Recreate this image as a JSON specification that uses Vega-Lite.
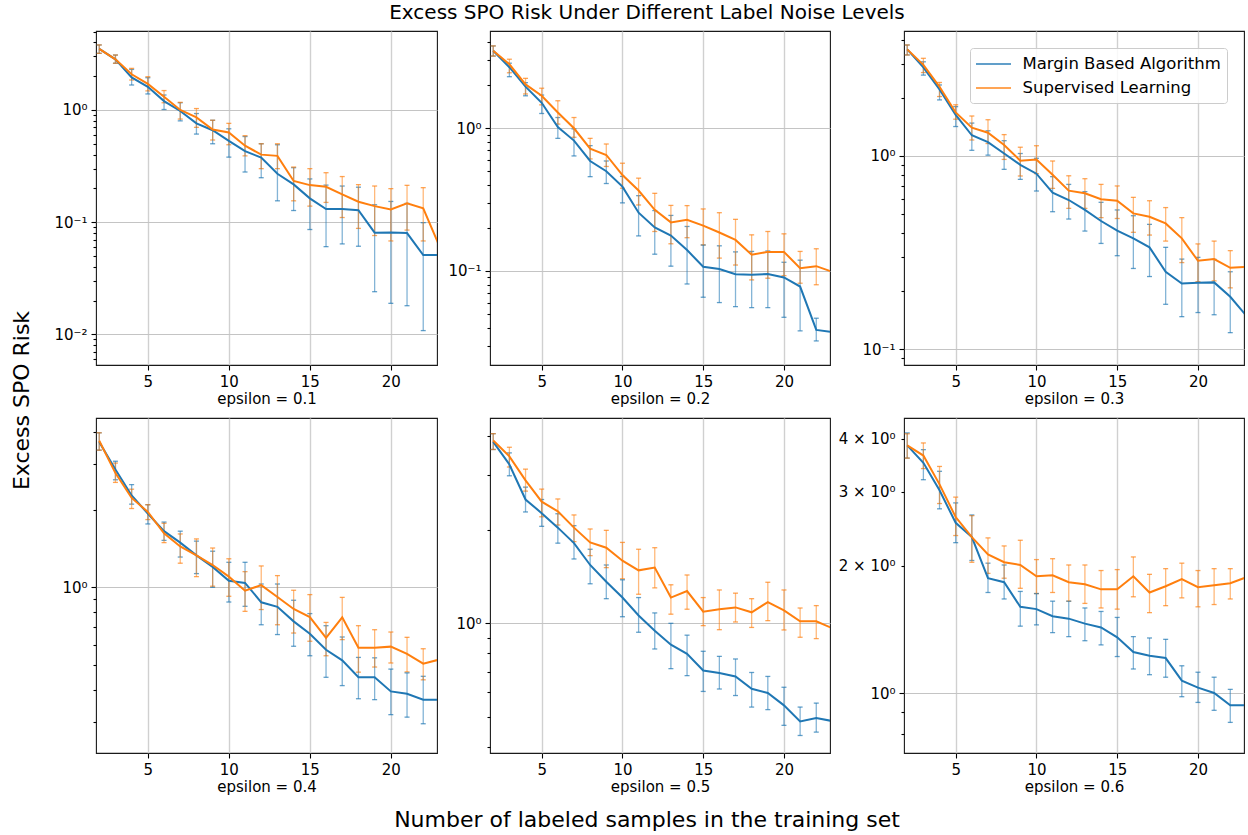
{
"$schema": "https://vega.github.io/schema/vega-lite/v6.json",
"padding": {"left": 9, "top": 2, "right": 5, "bottom": 5},
"background": "white",
"config": {
  "font": "DejaVu Sans",
  "view": {"stroke": "#1a1a1a", "strokeWidth": 1.1},
  "axis": {"labelFont": "DejaVu Sans", "labelFontSize": 15, "labelColor": "#000000", "tickColor": "#000000", "tickWidth": 1.1, "domain": false, "titleFont": "DejaVu Sans", "titleFontWeight": "normal", "titleColor": "#000000", "titleFontSize": 15, "labelOverlap": false, "labelFlush": false, "labelBound": false, "titlePadding": 2, "labelPadding": 4, "tickSize": 5},
  "axisX": {"gridColor": "#d0d0d0", "gridWidth": 1.4},
  "axisY": {"gridColor": "#c4c4c4", "gridWidth": 1},
  "legend": {"title": null, "symbolType": "M-2,0H2", "symbolSize": 306, "symbolOffset": 7.5, "symbolStrokeWidth": 2, "labelFontSize": 16.5, "labelFont": "DejaVu Sans", "labelColor": "#000000", "labelLimit": 400, "labelOffset": 19, "padding": 6, "rowPadding": 5, "fillColor": "rgba(255,255,255,0.85)", "strokeColor": "#cccccc", "cornerRadius": 3},
  "title": {"font": "DejaVu Sans", "fontWeight": "normal", "color": "#000000"}
},
"datasets": {"d": [
{"e":0.1,"s":"Margin Based Algorithm","x":2,"y":3.5,"lo":3.2,"hi":3.8},
{"e":0.1,"s":"Margin Based Algorithm","x":3,"y":2.83,"lo":2.61,"hi":3.09},
{"e":0.1,"s":"Margin Based Algorithm","x":4,"y":1.95,"lo":1.67,"hi":2.3},
{"e":0.1,"s":"Margin Based Algorithm","x":5,"y":1.61,"lo":1.39,"hi":1.94},
{"e":0.1,"s":"Margin Based Algorithm","x":6,"y":1.2,"lo":1.01,"hi":1.36},
{"e":0.1,"s":"Margin Based Algorithm","x":7,"y":0.98,"lo":0.8,"hi":1.16},
{"e":0.1,"s":"Margin Based Algorithm","x":8,"y":0.76,"lo":0.61,"hi":0.93},
{"e":0.1,"s":"Margin Based Algorithm","x":9,"y":0.66,"lo":0.5,"hi":0.81},
{"e":0.1,"s":"Margin Based Algorithm","x":10,"y":0.53,"lo":0.38,"hi":0.68},
{"e":0.1,"s":"Margin Based Algorithm","x":11,"y":0.43,"lo":0.28,"hi":0.58},
{"e":0.1,"s":"Margin Based Algorithm","x":12,"y":0.376,"lo":0.249,"hi":0.5},
{"e":0.1,"s":"Margin Based Algorithm","x":13,"y":0.27,"lo":0.155,"hi":0.49},
{"e":0.1,"s":"Margin Based Algorithm","x":14,"y":0.217,"lo":0.127,"hi":0.306},
{"e":0.1,"s":"Margin Based Algorithm","x":15,"y":0.163,"lo":0.086,"hi":0.243},
{"e":0.1,"s":"Margin Based Algorithm","x":16,"y":0.131,"lo":0.0605,"hi":0.214},
{"e":0.1,"s":"Margin Based Algorithm","x":17,"y":0.131,"lo":0.064,"hi":0.21},
{"e":0.1,"s":"Margin Based Algorithm","x":18,"y":0.128,"lo":0.061,"hi":0.205},
{"e":0.1,"s":"Margin Based Algorithm","x":19,"y":0.0806,"lo":0.024,"hi":0.143},
{"e":0.1,"s":"Margin Based Algorithm","x":20,"y":0.081,"lo":0.0189,"hi":0.153},
{"e":0.1,"s":"Margin Based Algorithm","x":21,"y":0.08,"lo":0.018,"hi":0.147},
{"e":0.1,"s":"Margin Based Algorithm","x":22,"y":0.051,"lo":0.0108,"hi":0.099},
{"e":0.1,"s":"Margin Based Algorithm","x":23,"y":0.051,"lo":null,"hi":null},
{"e":0.1,"s":"Supervised Learning","x":2,"y":3.5,"lo":3.2,"hi":3.8},
{"e":0.1,"s":"Supervised Learning","x":3,"y":2.83,"lo":2.61,"hi":3.09},
{"e":0.1,"s":"Supervised Learning","x":4,"y":2.08,"lo":1.85,"hi":2.35},
{"e":0.1,"s":"Supervised Learning","x":5,"y":1.71,"lo":1.48,"hi":1.98},
{"e":0.1,"s":"Supervised Learning","x":6,"y":1.31,"lo":1.16,"hi":1.49},
{"e":0.1,"s":"Supervised Learning","x":7,"y":1.0,"lo":0.83,"hi":1.17},
{"e":0.1,"s":"Supervised Learning","x":8,"y":0.86,"lo":0.7,"hi":1.03},
{"e":0.1,"s":"Supervised Learning","x":9,"y":0.67,"lo":0.54,"hi":0.81},
{"e":0.1,"s":"Supervised Learning","x":10,"y":0.63,"lo":0.49,"hi":0.76},
{"e":0.1,"s":"Supervised Learning","x":11,"y":0.48,"lo":0.39,"hi":0.59},
{"e":0.1,"s":"Supervised Learning","x":12,"y":0.4,"lo":0.3,"hi":0.5},
{"e":0.1,"s":"Supervised Learning","x":13,"y":0.39,"lo":0.3,"hi":0.5},
{"e":0.1,"s":"Supervised Learning","x":14,"y":0.233,"lo":0.155,"hi":0.31},
{"e":0.1,"s":"Supervised Learning","x":15,"y":0.214,"lo":0.139,"hi":0.3},
{"e":0.1,"s":"Supervised Learning","x":16,"y":0.207,"lo":0.15,"hi":0.276},
{"e":0.1,"s":"Supervised Learning","x":17,"y":0.177,"lo":0.11,"hi":0.255},
{"e":0.1,"s":"Supervised Learning","x":18,"y":0.152,"lo":0.088,"hi":0.216},
{"e":0.1,"s":"Supervised Learning","x":19,"y":0.139,"lo":0.076,"hi":0.21},
{"e":0.1,"s":"Supervised Learning","x":20,"y":0.13,"lo":0.068,"hi":0.199},
{"e":0.1,"s":"Supervised Learning","x":21,"y":0.147,"lo":0.085,"hi":0.213},
{"e":0.1,"s":"Supervised Learning","x":22,"y":0.133,"lo":0.068,"hi":0.203},
{"e":0.1,"s":"Supervised Learning","x":23,"y":0.061,"lo":null,"hi":null},
{"e":0.2,"s":"Margin Based Algorithm","x":2,"y":3.5,"lo":3.21,"hi":3.78},
{"e":0.2,"s":"Margin Based Algorithm","x":3,"y":2.68,"lo":2.3,"hi":2.86},
{"e":0.2,"s":"Margin Based Algorithm","x":4,"y":1.96,"lo":1.69,"hi":2.09},
{"e":0.2,"s":"Margin Based Algorithm","x":5,"y":1.51,"lo":1.27,"hi":1.71},
{"e":0.2,"s":"Margin Based Algorithm","x":6,"y":1.02,"lo":0.85,"hi":1.19},
{"e":0.2,"s":"Margin Based Algorithm","x":7,"y":0.82,"lo":0.64,"hi":0.99},
{"e":0.2,"s":"Margin Based Algorithm","x":8,"y":0.59,"lo":0.458,"hi":0.756},
{"e":0.2,"s":"Margin Based Algorithm","x":9,"y":0.5,"lo":0.41,"hi":0.59},
{"e":0.2,"s":"Margin Based Algorithm","x":10,"y":0.39,"lo":0.3,"hi":0.46},
{"e":0.2,"s":"Margin Based Algorithm","x":11,"y":0.256,"lo":0.176,"hi":0.337},
{"e":0.2,"s":"Margin Based Algorithm","x":12,"y":0.202,"lo":0.131,"hi":0.265},
{"e":0.2,"s":"Margin Based Algorithm","x":13,"y":0.177,"lo":0.108,"hi":0.245},
{"e":0.2,"s":"Margin Based Algorithm","x":14,"y":0.14,"lo":0.081,"hi":0.205},
{"e":0.2,"s":"Margin Based Algorithm","x":15,"y":0.107,"lo":0.0654,"hi":0.152},
{"e":0.2,"s":"Margin Based Algorithm","x":16,"y":0.103,"lo":0.06,"hi":0.15},
{"e":0.2,"s":"Margin Based Algorithm","x":17,"y":0.0948,"lo":0.0562,"hi":0.136},
{"e":0.2,"s":"Margin Based Algorithm","x":18,"y":0.094,"lo":0.0553,"hi":0.137},
{"e":0.2,"s":"Margin Based Algorithm","x":19,"y":0.095,"lo":0.0553,"hi":0.138},
{"e":0.2,"s":"Margin Based Algorithm","x":20,"y":0.09,"lo":0.0473,"hi":0.115},
{"e":0.2,"s":"Margin Based Algorithm","x":21,"y":0.0777,"lo":0.038,"hi":0.119},
{"e":0.2,"s":"Margin Based Algorithm","x":22,"y":0.0386,"lo":0.0323,"hi":0.0466},
{"e":0.2,"s":"Margin Based Algorithm","x":23,"y":0.0373,"lo":null,"hi":null},
{"e":0.2,"s":"Supervised Learning","x":2,"y":3.5,"lo":3.21,"hi":3.78},
{"e":0.2,"s":"Supervised Learning","x":3,"y":2.81,"lo":2.45,"hi":3.05},
{"e":0.2,"s":"Supervised Learning","x":4,"y":2.03,"lo":1.74,"hi":2.24},
{"e":0.2,"s":"Supervised Learning","x":5,"y":1.69,"lo":1.46,"hi":1.91},
{"e":0.2,"s":"Supervised Learning","x":6,"y":1.29,"lo":1.07,"hi":1.56},
{"e":0.2,"s":"Supervised Learning","x":7,"y":1.0,"lo":0.865,"hi":1.19},
{"e":0.2,"s":"Supervised Learning","x":8,"y":0.72,"lo":0.61,"hi":0.85},
{"e":0.2,"s":"Supervised Learning","x":9,"y":0.65,"lo":0.54,"hi":0.776},
{"e":0.2,"s":"Supervised Learning","x":10,"y":0.47,"lo":0.38,"hi":0.569},
{"e":0.2,"s":"Supervised Learning","x":11,"y":0.366,"lo":0.29,"hi":0.447},
{"e":0.2,"s":"Supervised Learning","x":12,"y":0.268,"lo":0.189,"hi":0.35},
{"e":0.2,"s":"Supervised Learning","x":13,"y":0.219,"lo":0.155,"hi":0.288},
{"e":0.2,"s":"Supervised Learning","x":14,"y":0.228,"lo":0.171,"hi":0.287},
{"e":0.2,"s":"Supervised Learning","x":15,"y":0.208,"lo":0.152,"hi":0.272},
{"e":0.2,"s":"Supervised Learning","x":16,"y":0.186,"lo":0.123,"hi":0.256},
{"e":0.2,"s":"Supervised Learning","x":17,"y":0.165,"lo":0.11,"hi":0.23},
{"e":0.2,"s":"Supervised Learning","x":18,"y":0.13,"lo":0.0865,"hi":0.179},
{"e":0.2,"s":"Supervised Learning","x":19,"y":0.136,"lo":0.0889,"hi":0.189},
{"e":0.2,"s":"Supervised Learning","x":20,"y":0.136,"lo":0.0927,"hi":0.182},
{"e":0.2,"s":"Supervised Learning","x":21,"y":0.1045,"lo":0.082,"hi":0.137},
{"e":0.2,"s":"Supervised Learning","x":22,"y":0.108,"lo":0.08,"hi":0.143},
{"e":0.2,"s":"Supervised Learning","x":23,"y":0.0984,"lo":null,"hi":null},
{"e":0.3,"s":"Margin Based Algorithm","x":2,"y":3.56,"lo":3.33,"hi":3.75},
{"e":0.3,"s":"Margin Based Algorithm","x":3,"y":2.87,"lo":2.62,"hi":3.07},
{"e":0.3,"s":"Margin Based Algorithm","x":4,"y":2.21,"lo":1.95,"hi":2.33},
{"e":0.3,"s":"Margin Based Algorithm","x":5,"y":1.63,"lo":1.42,"hi":1.8},
{"e":0.3,"s":"Margin Based Algorithm","x":6,"y":1.28,"lo":1.07,"hi":1.48},
{"e":0.3,"s":"Margin Based Algorithm","x":7,"y":1.18,"lo":1.01,"hi":1.35},
{"e":0.3,"s":"Margin Based Algorithm","x":8,"y":1.03,"lo":0.853,"hi":1.2},
{"e":0.3,"s":"Margin Based Algorithm","x":9,"y":0.9,"lo":0.757,"hi":1.03},
{"e":0.3,"s":"Margin Based Algorithm","x":10,"y":0.81,"lo":0.659,"hi":0.973},
{"e":0.3,"s":"Margin Based Algorithm","x":11,"y":0.646,"lo":0.515,"hi":0.782},
{"e":0.3,"s":"Margin Based Algorithm","x":12,"y":0.592,"lo":0.472,"hi":0.713},
{"e":0.3,"s":"Margin Based Algorithm","x":13,"y":0.526,"lo":0.409,"hi":0.654},
{"e":0.3,"s":"Margin Based Algorithm","x":14,"y":0.461,"lo":0.353,"hi":0.576},
{"e":0.3,"s":"Margin Based Algorithm","x":15,"y":0.411,"lo":0.305,"hi":0.526},
{"e":0.3,"s":"Margin Based Algorithm","x":16,"y":0.375,"lo":0.262,"hi":0.491},
{"e":0.3,"s":"Margin Based Algorithm","x":17,"y":0.337,"lo":0.238,"hi":0.443},
{"e":0.3,"s":"Margin Based Algorithm","x":18,"y":0.252,"lo":0.171,"hi":0.337},
{"e":0.3,"s":"Margin Based Algorithm","x":19,"y":0.219,"lo":0.1476,"hi":0.293},
{"e":0.3,"s":"Margin Based Algorithm","x":20,"y":0.221,"lo":0.155,"hi":0.299},
{"e":0.3,"s":"Margin Based Algorithm","x":21,"y":0.222,"lo":0.151,"hi":0.292},
{"e":0.3,"s":"Margin Based Algorithm","x":22,"y":0.187,"lo":0.122,"hi":0.252},
{"e":0.3,"s":"Margin Based Algorithm","x":23,"y":0.149,"lo":null,"hi":null},
{"e":0.3,"s":"Supervised Learning","x":2,"y":3.56,"lo":3.33,"hi":3.75},
{"e":0.3,"s":"Supervised Learning","x":3,"y":2.96,"lo":2.7,"hi":3.2},
{"e":0.3,"s":"Supervised Learning","x":4,"y":2.28,"lo":2.03,"hi":2.4},
{"e":0.3,"s":"Supervised Learning","x":5,"y":1.68,"lo":1.55,"hi":1.84},
{"e":0.3,"s":"Supervised Learning","x":6,"y":1.4,"lo":1.21,"hi":1.61},
{"e":0.3,"s":"Supervised Learning","x":7,"y":1.32,"lo":1.16,"hi":1.54},
{"e":0.3,"s":"Supervised Learning","x":8,"y":1.14,"lo":0.96,"hi":1.29},
{"e":0.3,"s":"Supervised Learning","x":9,"y":0.946,"lo":0.788,"hi":1.11},
{"e":0.3,"s":"Supervised Learning","x":10,"y":0.96,"lo":0.81,"hi":1.13},
{"e":0.3,"s":"Supervised Learning","x":11,"y":0.8,"lo":0.68,"hi":0.942},
{"e":0.3,"s":"Supervised Learning","x":12,"y":0.662,"lo":0.536,"hi":0.79},
{"e":0.3,"s":"Supervised Learning","x":13,"y":0.641,"lo":0.536,"hi":0.763},
{"e":0.3,"s":"Supervised Learning","x":14,"y":0.597,"lo":0.48,"hi":0.713},
{"e":0.3,"s":"Supervised Learning","x":15,"y":0.587,"lo":0.475,"hi":0.7},
{"e":0.3,"s":"Supervised Learning","x":16,"y":0.505,"lo":0.403,"hi":0.611},
{"e":0.3,"s":"Supervised Learning","x":17,"y":0.485,"lo":0.39,"hi":0.587},
{"e":0.3,"s":"Supervised Learning","x":18,"y":0.448,"lo":0.363,"hi":0.541},
{"e":0.3,"s":"Supervised Learning","x":19,"y":0.375,"lo":0.281,"hi":0.48},
{"e":0.3,"s":"Supervised Learning","x":20,"y":0.287,"lo":0.224,"hi":0.351},
{"e":0.3,"s":"Supervised Learning","x":21,"y":0.293,"lo":0.226,"hi":0.363},
{"e":0.3,"s":"Supervised Learning","x":22,"y":0.264,"lo":0.208,"hi":0.324},
{"e":0.3,"s":"Supervised Learning","x":23,"y":0.267,"lo":null,"hi":null},
{"e":0.4,"s":"Margin Based Algorithm","x":2,"y":3.66,"lo":3.4,"hi":3.97},
{"e":0.4,"s":"Margin Based Algorithm","x":3,"y":2.86,"lo":2.61,"hi":3.08},
{"e":0.4,"s":"Margin Based Algorithm","x":4,"y":2.27,"lo":2.1,"hi":2.5},
{"e":0.4,"s":"Margin Based Algorithm","x":5,"y":1.93,"lo":1.76,"hi":2.09},
{"e":0.4,"s":"Margin Based Algorithm","x":6,"y":1.65,"lo":1.52,"hi":1.79},
{"e":0.4,"s":"Margin Based Algorithm","x":7,"y":1.49,"lo":1.31,"hi":1.65},
{"e":0.4,"s":"Margin Based Algorithm","x":8,"y":1.33,"lo":1.13,"hi":1.51},
{"e":0.4,"s":"Margin Based Algorithm","x":9,"y":1.2,"lo":1.0,"hi":1.38},
{"e":0.4,"s":"Margin Based Algorithm","x":10,"y":1.06,"lo":0.877,"hi":1.25},
{"e":0.4,"s":"Margin Based Algorithm","x":11,"y":1.04,"lo":0.844,"hi":1.25},
{"e":0.4,"s":"Margin Based Algorithm","x":12,"y":0.875,"lo":0.716,"hi":1.03},
{"e":0.4,"s":"Margin Based Algorithm","x":13,"y":0.84,"lo":0.656,"hi":1.03},
{"e":0.4,"s":"Margin Based Algorithm","x":14,"y":0.738,"lo":0.591,"hi":0.891},
{"e":0.4,"s":"Margin Based Algorithm","x":15,"y":0.661,"lo":0.543,"hi":0.791},
{"e":0.4,"s":"Margin Based Algorithm","x":16,"y":0.573,"lo":0.448,"hi":0.71},
{"e":0.4,"s":"Margin Based Algorithm","x":17,"y":0.521,"lo":0.416,"hi":0.642},
{"e":0.4,"s":"Margin Based Algorithm","x":18,"y":0.448,"lo":0.37,"hi":0.535},
{"e":0.4,"s":"Margin Based Algorithm","x":19,"y":0.448,"lo":0.367,"hi":0.533},
{"e":0.4,"s":"Margin Based Algorithm","x":20,"y":0.395,"lo":0.321,"hi":0.482},
{"e":0.4,"s":"Margin Based Algorithm","x":21,"y":0.387,"lo":0.314,"hi":0.466},
{"e":0.4,"s":"Margin Based Algorithm","x":22,"y":0.367,"lo":0.296,"hi":0.452},
{"e":0.4,"s":"Margin Based Algorithm","x":23,"y":0.367,"lo":null,"hi":null},
{"e":0.4,"s":"Supervised Learning","x":2,"y":3.7,"lo":3.4,"hi":3.97},
{"e":0.4,"s":"Supervised Learning","x":3,"y":2.77,"lo":2.55,"hi":3.03},
{"e":0.4,"s":"Supervised Learning","x":4,"y":2.22,"lo":2.02,"hi":2.4},
{"e":0.4,"s":"Supervised Learning","x":5,"y":1.96,"lo":1.83,"hi":2.09},
{"e":0.4,"s":"Supervised Learning","x":6,"y":1.62,"lo":1.49,"hi":1.77},
{"e":0.4,"s":"Supervised Learning","x":7,"y":1.44,"lo":1.24,"hi":1.61},
{"e":0.4,"s":"Supervised Learning","x":8,"y":1.33,"lo":1.1,"hi":1.54},
{"e":0.4,"s":"Supervised Learning","x":9,"y":1.22,"lo":1.01,"hi":1.42},
{"e":0.4,"s":"Supervised Learning","x":10,"y":1.1,"lo":0.923,"hi":1.29},
{"e":0.4,"s":"Supervised Learning","x":11,"y":0.97,"lo":0.807,"hi":1.15},
{"e":0.4,"s":"Supervised Learning","x":12,"y":1.02,"lo":0.82,"hi":1.21},
{"e":0.4,"s":"Supervised Learning","x":13,"y":0.917,"lo":0.716,"hi":1.11},
{"e":0.4,"s":"Supervised Learning","x":14,"y":0.824,"lo":0.665,"hi":0.974},
{"e":0.4,"s":"Supervised Learning","x":15,"y":0.767,"lo":0.618,"hi":0.937},
{"e":0.4,"s":"Supervised Learning","x":16,"y":0.637,"lo":0.543,"hi":0.731},
{"e":0.4,"s":"Supervised Learning","x":17,"y":0.765,"lo":0.627,"hi":0.914},
{"e":0.4,"s":"Supervised Learning","x":18,"y":0.583,"lo":0.469,"hi":0.71},
{"e":0.4,"s":"Supervised Learning","x":19,"y":0.583,"lo":0.491,"hi":0.685},
{"e":0.4,"s":"Supervised Learning","x":20,"y":0.589,"lo":0.509,"hi":0.671},
{"e":0.4,"s":"Supervised Learning","x":21,"y":0.552,"lo":0.47,"hi":0.64},
{"e":0.4,"s":"Supervised Learning","x":22,"y":0.506,"lo":0.438,"hi":0.578},
{"e":0.4,"s":"Supervised Learning","x":23,"y":0.525,"lo":null,"hi":null},
{"e":0.5,"s":"Margin Based Algorithm","x":2,"y":3.83,"lo":3.62,"hi":4.07},
{"e":0.5,"s":"Margin Based Algorithm","x":3,"y":3.24,"lo":2.98,"hi":3.53},
{"e":0.5,"s":"Margin Based Algorithm","x":4,"y":2.5,"lo":2.28,"hi":2.74},
{"e":0.5,"s":"Margin Based Algorithm","x":5,"y":2.26,"lo":2.05,"hi":2.5},
{"e":0.5,"s":"Margin Based Algorithm","x":6,"y":2.03,"lo":1.81,"hi":2.25},
{"e":0.5,"s":"Margin Based Algorithm","x":7,"y":1.81,"lo":1.61,"hi":2.06},
{"e":0.5,"s":"Margin Based Algorithm","x":8,"y":1.54,"lo":1.34,"hi":1.73},
{"e":0.5,"s":"Margin Based Algorithm","x":9,"y":1.36,"lo":1.2,"hi":1.54},
{"e":0.5,"s":"Margin Based Algorithm","x":10,"y":1.21,"lo":1.05,"hi":1.38},
{"e":0.5,"s":"Margin Based Algorithm","x":11,"y":1.06,"lo":0.936,"hi":1.21},
{"e":0.5,"s":"Margin Based Algorithm","x":12,"y":0.947,"lo":0.827,"hi":1.08},
{"e":0.5,"s":"Margin Based Algorithm","x":13,"y":0.854,"lo":0.715,"hi":1.0},
{"e":0.5,"s":"Margin Based Algorithm","x":14,"y":0.798,"lo":0.679,"hi":0.916},
{"e":0.5,"s":"Margin Based Algorithm","x":15,"y":0.705,"lo":0.604,"hi":0.813},
{"e":0.5,"s":"Margin Based Algorithm","x":16,"y":0.692,"lo":0.615,"hi":0.783},
{"e":0.5,"s":"Margin Based Algorithm","x":17,"y":0.675,"lo":0.586,"hi":0.768},
{"e":0.5,"s":"Margin Based Algorithm","x":18,"y":0.616,"lo":0.538,"hi":0.695},
{"e":0.5,"s":"Margin Based Algorithm","x":19,"y":0.597,"lo":0.528,"hi":0.675},
{"e":0.5,"s":"Margin Based Algorithm","x":20,"y":0.545,"lo":0.47,"hi":0.623},
{"e":0.5,"s":"Margin Based Algorithm","x":21,"y":0.484,"lo":0.436,"hi":0.538},
{"e":0.5,"s":"Margin Based Algorithm","x":22,"y":0.496,"lo":0.447,"hi":0.554},
{"e":0.5,"s":"Margin Based Algorithm","x":23,"y":0.485,"lo":null,"hi":null},
{"e":0.5,"s":"Supervised Learning","x":2,"y":3.87,"lo":3.62,"hi":4.07},
{"e":0.5,"s":"Supervised Learning","x":3,"y":3.44,"lo":3.18,"hi":3.68},
{"e":0.5,"s":"Supervised Learning","x":4,"y":2.88,"lo":2.66,"hi":3.13},
{"e":0.5,"s":"Supervised Learning","x":5,"y":2.46,"lo":2.2,"hi":2.7},
{"e":0.5,"s":"Supervised Learning","x":6,"y":2.29,"lo":2.07,"hi":2.51},
{"e":0.5,"s":"Supervised Learning","x":7,"y":2.03,"lo":1.83,"hi":2.23},
{"e":0.5,"s":"Supervised Learning","x":8,"y":1.82,"lo":1.65,"hi":2.01},
{"e":0.5,"s":"Supervised Learning","x":9,"y":1.75,"lo":1.51,"hi":1.99},
{"e":0.5,"s":"Supervised Learning","x":10,"y":1.59,"lo":1.39,"hi":1.82},
{"e":0.5,"s":"Supervised Learning","x":11,"y":1.48,"lo":1.24,"hi":1.73},
{"e":0.5,"s":"Supervised Learning","x":12,"y":1.51,"lo":1.3,"hi":1.75},
{"e":0.5,"s":"Supervised Learning","x":13,"y":1.21,"lo":1.07,"hi":1.33},
{"e":0.5,"s":"Supervised Learning","x":14,"y":1.27,"lo":1.11,"hi":1.43},
{"e":0.5,"s":"Supervised Learning","x":15,"y":1.09,"lo":0.983,"hi":1.21},
{"e":0.5,"s":"Supervised Learning","x":16,"y":1.11,"lo":0.954,"hi":1.28},
{"e":0.5,"s":"Supervised Learning","x":17,"y":1.125,"lo":1.01,"hi":1.25},
{"e":0.5,"s":"Supervised Learning","x":18,"y":1.085,"lo":0.97,"hi":1.2},
{"e":0.5,"s":"Supervised Learning","x":19,"y":1.17,"lo":1.02,"hi":1.355},
{"e":0.5,"s":"Supervised Learning","x":20,"y":1.1,"lo":0.952,"hi":1.28},
{"e":0.5,"s":"Supervised Learning","x":21,"y":1.015,"lo":0.902,"hi":1.12},
{"e":0.5,"s":"Supervised Learning","x":22,"y":1.015,"lo":0.893,"hi":1.14},
{"e":0.5,"s":"Supervised Learning","x":23,"y":0.964,"lo":null,"hi":null},
{"e":0.6,"s":"Margin Based Algorithm","x":2,"y":3.86,"lo":3.6,"hi":4.13},
{"e":0.6,"s":"Margin Based Algorithm","x":3,"y":3.51,"lo":3.2,"hi":3.77},
{"e":0.6,"s":"Margin Based Algorithm","x":4,"y":3.02,"lo":2.73,"hi":3.35},
{"e":0.6,"s":"Margin Based Algorithm","x":5,"y":2.53,"lo":2.27,"hi":2.82},
{"e":0.6,"s":"Margin Based Algorithm","x":6,"y":2.34,"lo":2.06,"hi":2.64},
{"e":0.6,"s":"Margin Based Algorithm","x":7,"y":1.87,"lo":1.73,"hi":2.03},
{"e":0.6,"s":"Margin Based Algorithm","x":8,"y":1.83,"lo":1.67,"hi":2.01},
{"e":0.6,"s":"Margin Based Algorithm","x":9,"y":1.6,"lo":1.44,"hi":1.74},
{"e":0.6,"s":"Margin Based Algorithm","x":10,"y":1.58,"lo":1.45,"hi":1.72},
{"e":0.6,"s":"Margin Based Algorithm","x":11,"y":1.52,"lo":1.39,"hi":1.65},
{"e":0.6,"s":"Margin Based Algorithm","x":12,"y":1.5,"lo":1.36,"hi":1.65},
{"e":0.6,"s":"Margin Based Algorithm","x":13,"y":1.46,"lo":1.33,"hi":1.59},
{"e":0.6,"s":"Margin Based Algorithm","x":14,"y":1.43,"lo":1.3,"hi":1.56},
{"e":0.6,"s":"Margin Based Algorithm","x":15,"y":1.355,"lo":1.22,"hi":1.51},
{"e":0.6,"s":"Margin Based Algorithm","x":16,"y":1.25,"lo":1.14,"hi":1.36},
{"e":0.6,"s":"Margin Based Algorithm","x":17,"y":1.225,"lo":1.105,"hi":1.35},
{"e":0.6,"s":"Margin Based Algorithm","x":18,"y":1.21,"lo":1.09,"hi":1.34},
{"e":0.6,"s":"Margin Based Algorithm","x":19,"y":1.07,"lo":0.98,"hi":1.16},
{"e":0.6,"s":"Margin Based Algorithm","x":20,"y":1.03,"lo":0.95,"hi":1.12},
{"e":0.6,"s":"Margin Based Algorithm","x":21,"y":1.0,"lo":0.91,"hi":1.09},
{"e":0.6,"s":"Margin Based Algorithm","x":22,"y":0.935,"lo":0.852,"hi":1.02},
{"e":0.6,"s":"Margin Based Algorithm","x":23,"y":0.935,"lo":null,"hi":null},
{"e":0.6,"s":"Supervised Learning","x":2,"y":3.86,"lo":3.6,"hi":4.11},
{"e":0.6,"s":"Supervised Learning","x":3,"y":3.65,"lo":3.4,"hi":3.91},
{"e":0.6,"s":"Supervised Learning","x":4,"y":3.12,"lo":2.81,"hi":3.44},
{"e":0.6,"s":"Supervised Learning","x":5,"y":2.61,"lo":2.36,"hi":2.91},
{"e":0.6,"s":"Supervised Learning","x":6,"y":2.34,"lo":2.04,"hi":2.63},
{"e":0.6,"s":"Supervised Learning","x":7,"y":2.13,"lo":1.92,"hi":2.33},
{"e":0.6,"s":"Supervised Learning","x":8,"y":2.04,"lo":1.87,"hi":2.23},
{"e":0.6,"s":"Supervised Learning","x":9,"y":2.01,"lo":1.77,"hi":2.3},
{"e":0.6,"s":"Supervised Learning","x":10,"y":1.89,"lo":1.72,"hi":2.07},
{"e":0.6,"s":"Supervised Learning","x":11,"y":1.9,"lo":1.73,"hi":2.08},
{"e":0.6,"s":"Supervised Learning","x":12,"y":1.83,"lo":1.65,"hi":2.01},
{"e":0.6,"s":"Supervised Learning","x":13,"y":1.81,"lo":1.63,"hi":2.01},
{"e":0.6,"s":"Supervised Learning","x":14,"y":1.76,"lo":1.59,"hi":1.95},
{"e":0.6,"s":"Supervised Learning","x":15,"y":1.76,"lo":1.58,"hi":1.96},
{"e":0.6,"s":"Supervised Learning","x":16,"y":1.89,"lo":1.69,"hi":2.1},
{"e":0.6,"s":"Supervised Learning","x":17,"y":1.73,"lo":1.55,"hi":1.91},
{"e":0.6,"s":"Supervised Learning","x":18,"y":1.79,"lo":1.61,"hi":1.97},
{"e":0.6,"s":"Supervised Learning","x":19,"y":1.86,"lo":1.68,"hi":2.03},
{"e":0.6,"s":"Supervised Learning","x":20,"y":1.78,"lo":1.6,"hi":1.95},
{"e":0.6,"s":"Supervised Learning","x":21,"y":1.8,"lo":1.62,"hi":1.97},
{"e":0.6,"s":"Supervised Learning","x":22,"y":1.82,"lo":1.67,"hi":1.97},
{"e":0.6,"s":"Supervised Learning","x":23,"y":1.88,"lo":null,"hi":null}
]},
"columns": 5,
"spacing": {"row": 53, "column": 0},
"bounds": "flush",
"align": "each",
"resolve": {"scale": {"color": "independent"}, "legend": {"color": "independent"}},
"concat": [
    {"width": 341, "height": 334, "data": {"name": "d"}, "transform": [{"filter": "datum.e == 0.1"}],
     "resolve": {"axis": {"y": "independent"}},
     "encoding": {
       "x": {"field": "x", "type": "quantitative", "scale": {"domain": [1.8, 22.85], "nice": false, "zero": false}, "axis": {"values": [5, 10, 15, 20], "grid": true, "title": "epsilon = 0.1"}},
       "color": {"field": "s", "type": "nominal", "scale": {"domain": ["Margin Based Algorithm", "Supervised Learning"], "range": ["#1f77b4", "#ff7f0e"]}, "legend": null}
     },
     "layer": [
      {"transform": [{"filter": "isValid(datum.lo)"}],
       "mark": {"type": "errorbar", "ticks": {"size": 5}, "rule": {"opacity": 0.55}, "thickness": 1.3},
       "encoding": {
         "y": {"field": "lo", "type": "quantitative", "scale": {"type": "log", "domain": [0.00533, 5.06], "nice": false}, "axis": {"orient": "left", "values": [0.01, 0.1, 1], "labelExpr": "datum.value > 0.5 ? '10⁰' : datum.value > 0.05 ? '10⁻¹' : '10⁻²'", "grid": true, "title": "Excess SPO Risk", "titleFontSize": 22, "titleAngle": 270, "titleBaseline": "middle", "titleAlign": "center", "titleX": -75, "titleY": 369}},
         "y2": {"field": "hi"}
       }},
      {"mark": {"type": "line", "clip": true, "strokeWidth": 2},
       "encoding": {
         "y": {"field": "y", "type": "quantitative", "axis": {"orient": "left", "values": [0.006,0.007,0.008,0.009,0.02,0.03,0.04,0.05,0.06,0.07,0.08,0.09,0.2,0.3,0.4,0.5,0.6,0.7,0.8,0.9,2,3,4,5], "labels": false, "tickSize": 3, "grid": false, "title": null}}
       }}
     ]},
    {"width": 53, "height": 334, "data": {"values": []}, "mark": "point", "view": {"stroke": null}},
    {"width": 340, "height": 334, "data": {"name": "d"}, "transform": [{"filter": "datum.e == 0.2"}],
     "title": {"text": "Excess SPO Risk Under Different Label Noise Levels", "fontSize": 20, "anchor": "middle", "frame": "group", "dx": -13, "offset": -8, "baseline": "alphabetic"},
     "resolve": {"axis": {"y": "independent"}},
     "encoding": {
       "x": {"field": "x", "type": "quantitative", "scale": {"domain": [1.8, 22.85], "nice": false, "zero": false}, "axis": {"values": [5, 10, 15, 20], "grid": true, "title": "epsilon = 0.2"}},
       "color": {"field": "s", "type": "nominal", "scale": {"domain": ["Margin Based Algorithm", "Supervised Learning"], "range": ["#1f77b4", "#ff7f0e"]}, "legend": null}
     },
     "layer": [
      {"transform": [{"filter": "isValid(datum.lo)"}],
       "mark": {"type": "errorbar", "ticks": {"size": 5}, "rule": {"opacity": 0.55}, "thickness": 1.3},
       "encoding": {
         "y": {"field": "lo", "type": "quantitative", "scale": {"type": "log", "domain": [0.0219, 4.81], "nice": false}, "axis": {"orient": "left", "values": [0.1, 1], "labelExpr": "datum.value > 0.5 ? '10⁰' : '10⁻¹'", "grid": true, "title": null}},
         "y2": {"field": "hi"}
       }},
      {"mark": {"type": "line", "clip": true, "strokeWidth": 2},
       "encoding": {
         "y": {"field": "y", "type": "quantitative", "axis": {"orient": "left", "values": [0.03,0.04,0.05,0.06,0.07,0.08,0.09,0.2,0.3,0.4,0.5,0.6,0.7,0.8,0.9,2,3,4], "labels": false, "tickSize": 3, "grid": false, "title": null}}
       }}
     ]},
    {"width": 74, "height": 334, "data": {"values": []}, "mark": "point", "view": {"stroke": null}},
    {"width": 340, "height": 334, "data": {"name": "d"}, "transform": [{"filter": "datum.e == 0.3"}],
     "resolve": {"axis": {"y": "independent"}},
     "encoding": {
       "x": {"field": "x", "type": "quantitative", "scale": {"domain": [1.8, 22.85], "nice": false, "zero": false}, "axis": {"values": [5, 10, 15, 20], "grid": true, "title": "epsilon = 0.3"}},
       "color": {"field": "s", "type": "nominal", "scale": {"domain": ["Margin Based Algorithm", "Supervised Learning"], "range": ["#1f77b4", "#ff7f0e"]}, "legend": {"orient": "top-right", "offset": 17}}
     },
     "layer": [
      {"transform": [{"filter": "isValid(datum.lo)"}],
       "mark": {"type": "errorbar", "ticks": {"size": 5}, "rule": {"opacity": 0.55}, "thickness": 1.3},
       "encoding": {
         "y": {"field": "lo", "type": "quantitative", "scale": {"type": "log", "domain": [0.083, 4.43], "nice": false}, "axis": {"orient": "left", "values": [0.1, 1], "labelExpr": "datum.value > 0.5 ? '10⁰' : '10⁻¹'", "grid": true, "title": null}},
         "y2": {"field": "hi"}
       }},
      {"mark": {"type": "line", "clip": true, "strokeWidth": 2},
       "encoding": {
         "y": {"field": "y", "type": "quantitative", "axis": {"orient": "left", "values": [0.09,0.2,0.3,0.4,0.5,0.6,0.7,0.8,0.9,2,3,4], "labels": false, "tickSize": 3, "grid": false, "title": null}}
       }}
     ]},
    {"width": 341, "height": 335, "data": {"name": "d"}, "transform": [{"filter": "datum.e == 0.4"}],
     "resolve": {"axis": {"y": "independent"}},
     "encoding": {
       "x": {"field": "x", "type": "quantitative", "scale": {"domain": [1.8, 22.85], "nice": false, "zero": false}, "axis": {"values": [5, 10, 15, 20], "grid": true, "title": "epsilon = 0.4"}},
       "color": {"field": "s", "type": "nominal", "scale": {"domain": ["Margin Based Algorithm", "Supervised Learning"], "range": ["#1f77b4", "#ff7f0e"]}, "legend": null}
     },
     "layer": [
      {"transform": [{"filter": "isValid(datum.lo)"}],
       "mark": {"type": "errorbar", "ticks": {"size": 5}, "rule": {"opacity": 0.55}, "thickness": 1.3},
       "encoding": {
         "y": {"field": "lo", "type": "quantitative", "scale": {"type": "log", "domain": [0.228, 4.53], "nice": false}, "axis": {"orient": "left", "values": [1], "labelExpr": "'10⁰'", "grid": true, "title": null}},
         "y2": {"field": "hi"}
       }},
      {"mark": {"type": "line", "clip": true, "strokeWidth": 2},
       "encoding": {
         "y": {"field": "y", "type": "quantitative", "axis": {"orient": "left", "values": [0.3,0.4,0.5,0.6,0.7,0.8,0.9,2,3,4], "labels": false, "tickSize": 3, "grid": false, "title": null}}
       }}
     ]},
    {"width": 53, "height": 335, "data": {"values": []}, "mark": "point", "view": {"stroke": null}},
    {"width": 340, "height": 335, "data": {"name": "d"}, "transform": [{"filter": "datum.e == 0.5"}],
     "title": {"text": "Number of labeled samples in the training set", "orient": "bottom", "fontSize": 22, "anchor": "middle", "frame": "group", "dx": -13, "offset": 33, "baseline": "alphabetic"},
     "resolve": {"axis": {"y": "independent"}},
     "encoding": {
       "x": {"field": "x", "type": "quantitative", "scale": {"domain": [1.8, 22.85], "nice": false, "zero": false}, "axis": {"values": [5, 10, 15, 20], "grid": true, "title": "epsilon = 0.5"}},
       "color": {"field": "s", "type": "nominal", "scale": {"domain": ["Margin Based Algorithm", "Supervised Learning"], "range": ["#1f77b4", "#ff7f0e"]}, "legend": null}
     },
     "layer": [
      {"transform": [{"filter": "isValid(datum.lo)"}],
       "mark": {"type": "errorbar", "ticks": {"size": 5}, "rule": {"opacity": 0.55}, "thickness": 1.3},
       "encoding": {
         "y": {"field": "lo", "type": "quantitative", "scale": {"type": "log", "domain": [0.383, 4.57], "nice": false}, "axis": {"orient": "left", "values": [1], "labelExpr": "'10⁰'", "grid": true, "title": null}},
         "y2": {"field": "hi"}
       }},
      {"mark": {"type": "line", "clip": true, "strokeWidth": 2},
       "encoding": {
         "y": {"field": "y", "type": "quantitative", "axis": {"orient": "left", "values": [0.4,0.5,0.6,0.7,0.8,0.9,2,3,4], "labels": false, "tickSize": 3, "grid": false, "title": null}}
       }}
     ]},
    {"width": 74, "height": 335, "data": {"values": []}, "mark": "point", "view": {"stroke": null}},
    {"width": 340, "height": 335, "data": {"name": "d"}, "transform": [{"filter": "datum.e == 0.6"}],
     "resolve": {"axis": {"y": "independent"}},
     "encoding": {
       "x": {"field": "x", "type": "quantitative", "scale": {"domain": [1.8, 22.85], "nice": false, "zero": false}, "axis": {"values": [5, 10, 15, 20], "grid": true, "title": "epsilon = 0.6"}},
       "color": {"field": "s", "type": "nominal", "scale": {"domain": ["Margin Based Algorithm", "Supervised Learning"], "range": ["#1f77b4", "#ff7f0e"]}, "legend": null}
     },
     "layer": [
      {"transform": [{"filter": "isValid(datum.lo)"}],
       "mark": {"type": "errorbar", "ticks": {"size": 5}, "rule": {"opacity": 0.55}, "thickness": 1.3},
       "encoding": {
         "y": {"field": "lo", "type": "quantitative", "scale": {"type": "log", "domain": [0.721, 4.48], "nice": false}, "axis": {"orient": "left", "values": [1], "labelExpr": "'10⁰'", "grid": true, "title": null}},
         "y2": {"field": "hi"}
       }},
      {"mark": {"type": "line", "clip": true, "strokeWidth": 2},
       "encoding": {
         "y": {"field": "y", "type": "quantitative", "axis": {"orient": "left", "values": [0.8,0.9,2,3,4], "labelExpr": "datum.value > 3.5 ? '4 × 10⁰' : datum.value > 2.5 ? '3 × 10⁰' : datum.value > 1.5 ? '2 × 10⁰' : ''", "labelPadding": 6, "tickSize": 3, "grid": false, "title": null}}
       }}
     ]}
]
}
